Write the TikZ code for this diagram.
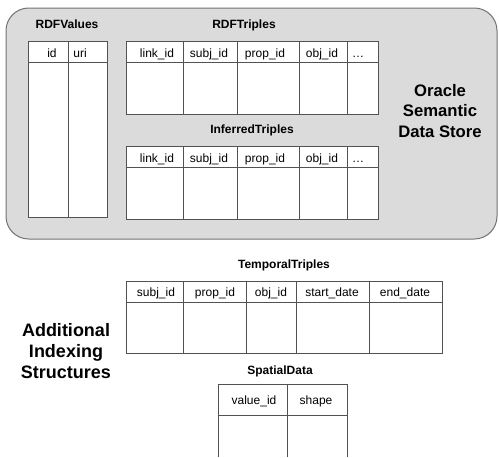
\documentclass[tikz,border=0pt]{standalone}
\usepackage{fontspec}
\setmainfont{Liberation Sans}
\begin{document}
\begin{tikzpicture}[x=0.75pt,y=-0.75pt,
    tabline/.style={draw=black!68,line width=0.75pt},
    coltext/.style={font=\fontsize{9}{10}\selectfont,anchor=base},
    tabtitle/.style={font=\fontsize{9}{10}\selectfont\bfseries,anchor=base},
    bigtext/.style={font=\fontsize{13.5}{16}\selectfont\bfseries,align=center}]
    \useasboundingbox (0,0) rectangle (499,457);
    % store
    \draw[draw=black!55,fill=black!14,line width=0.75pt,rounded corners=17pt] (6,8) rectangle (497,239);
    \node[bigtext,font=\fontsize{12.5}{15.5}\selectfont\bfseries] (store) at (440,111) {Oracle\\Semantic\\Data Store};
    \node[bigtext] (extra) at (66,351) {Additional\\Indexing\\Structures};
    % RDFValues
    \node[tabtitle] (rdfvalues) at (67,28) {RDFValues};
    \draw[tabline,fill=white] (28,41) rectangle (107,217);
    \draw[tabline] (28,62) -- (107,62);
    \draw[tabline] (68,41) -- (68,217);
    \node[coltext] (values-1) at (52,57) {id};
    \node[coltext] (values-2) at (80,57) {uri};
    % triple tables
    \foreach \top/\tx/\name/\label in {41/244/rdftriples/RDFTriples,146/252/inferred/InferredTriples} {
        \node[tabtitle] (\name) at (\tx,\top-13) {\label};
        \draw[tabline,fill=white] (126,\top) rectangle (378,\top+73);
        \draw[tabline] (126,\top+21) -- (378,\top+21);
        \foreach \x in {183,237,299,347}
            \draw[tabline] (\x,\top) -- (\x,\top+73);
        \foreach \x/\t [count=\i] in {157/link\_id,209/subj\_id,265/prop\_id,322/obj\_id,358/\ldots}
            \node[coltext] (\name-\i) at (\x,\top+16) {\t};
    }
    % TemporalTriples
    \node[tabtitle] (temporal) at (284,268) {TemporalTriples};
    \draw[tabline,fill=white] (126,281) rectangle (442,353);
    \draw[tabline] (126,302) -- (442,302);
    \foreach \x in {183,246,296,369}
        \draw[tabline] (\x,281) -- (\x,353);
    \foreach \x/\t [count=\i] in {156/subj\_id,215/prop\_id,271/obj\_id,332/start\_date,405/end\_date}
        \node[coltext] (temporal-\i) at (\x,296) {\t};
    % SpatialData
    \node[tabtitle] (spatial) at (280,374) {SpatialData};
    \draw[tabline] (218,457) -- (218,384) -- (347,384) -- (347,457);
    \draw[tabline] (218,415) -- (347,415);
    \draw[tabline] (287,384) -- (287,457);
    \node[coltext] (spatial-1) at (254,404) {value\_id};
    \node[coltext] (spatial-2) at (316,404) {shape};
\end{tikzpicture}
\end{document}
